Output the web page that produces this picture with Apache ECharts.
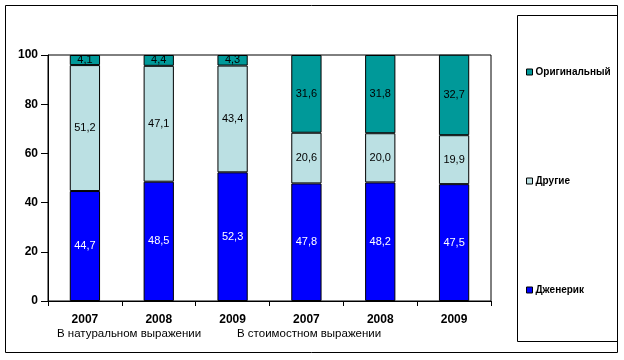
<!DOCTYPE html>
<html><head><meta charset="utf-8">
<script src="https://cdn.jsdelivr.net/npm/echarts@6/dist/echarts.min.js"></script>
<style>html,body{margin:0;padding:0;background:#fff}#c{width:624px;height:360px}</style>
</head><body><div id="c"></div>
<script>
const categories = ['2007','2008','2009','2007','2008','2009'];
const generic = [44.7, 48.5, 52.3, 47.8, 48.2, 47.5];
const other = [51.2, 47.1, 43.4, 20.6, 20.0, 19.9];
const original = [4.1, 4.4, 4.3, 31.6, 31.8, 32.7];
const groupLabels = ['В натуральном выражении', 'В стоимостном выражении'];
const yTicks = [0, 20, 40, 60, 80, 100];

const FONT = 'Arial, "Liberation Sans", sans-serif';
const fmt = p => String(p.value.toFixed(1)).replace('.', ',');

function bar(name, data, color, labelColor) {
  return {
    name, type: 'bar', stack: 's', data, barWidth: '41%',
    itemStyle: { color, borderColor: '#000', borderWidth: 1 },
    label: { show: true, position: 'inside', formatter: fmt, color: labelColor,
      fontFamily: FONT, fontSize: 11 },
    emphasis: { disabled: true }
  };
}

const chart = echarts.init(document.getElementById('c'), null, { renderer: 'canvas' });
chart.setOption({
  animation: false,
  backgroundColor: '#fff',
  grid: { left: 48, right: 133, top: 55, bottom: 59, show: true, borderColor: '#000', borderWidth: 1, backgroundColor: 'transparent' },
  xAxis: {
    type: 'category', data: categories,
    axisLine: { lineStyle: { color: '#000', width: 1 } },
    axisTick: { show: true, length: 5, lineStyle: { color: '#000' } },
    axisLabel: { color: '#000', fontWeight: 'bold', fontFamily: FONT, fontSize: 12, margin: 13 }
  },
  yAxis: {
    type: 'value', min: 0, max: 100, interval: 20,
    axisLine: { show: true, lineStyle: { color: '#000', width: 1 } },
    axisTick: { show: true, length: 7, lineStyle: { color: '#000' } },
    splitLine: { show: false },
    axisLabel: { color: '#000', fontWeight: 'bold', fontFamily: FONT, fontSize: 12, margin: 10,
      formatter: v => yTicks.includes(v) ? String(v) : '' }
  },
  legend: {
    orient: 'vertical', left: 521, top: 62, itemGap: 99,
    itemWidth: 6, itemHeight: 6, icon: 'rect',
    data: ['Оригинальный', 'Другие', 'Дженерик'],
    textStyle: { color: '#000', fontWeight: 'bold', fontFamily: FONT, fontSize: 10, padding: [0, 0, 0, -2] },
    itemStyle: { borderColor: '#000', borderWidth: 1 },
    selectedMode: false
  },
  graphic: [
    { type: 'rect', shape: { x: 5.5, y: 5.5, width: 612, height: 347 }, style: { fill: 'none', stroke: '#000', lineWidth: 1 }, silent: true, z: -1 },
    { type: 'rect', shape: { x: 517.5, y: 15.5, width: 100, height: 326 }, style: { fill: 'none', stroke: '#000', lineWidth: 1 }, silent: true, z: -1 },
    { type: 'text', left: 57, top: 328, style: { text: groupLabels[0], fill: '#000', font: '11.5px ' + FONT } },
    { type: 'text', left: 237, top: 328, style: { text: groupLabels[1], fill: '#000', font: '11.5px ' + FONT } }
  ],
  series: [
    bar('Дженерик', generic, '#0000FF', '#fff'),
    bar('Другие', other, '#BBE0E3', '#000'),
    bar('Оригинальный', original, '#009999', '#000')
  ]
});
</script></body></html>
